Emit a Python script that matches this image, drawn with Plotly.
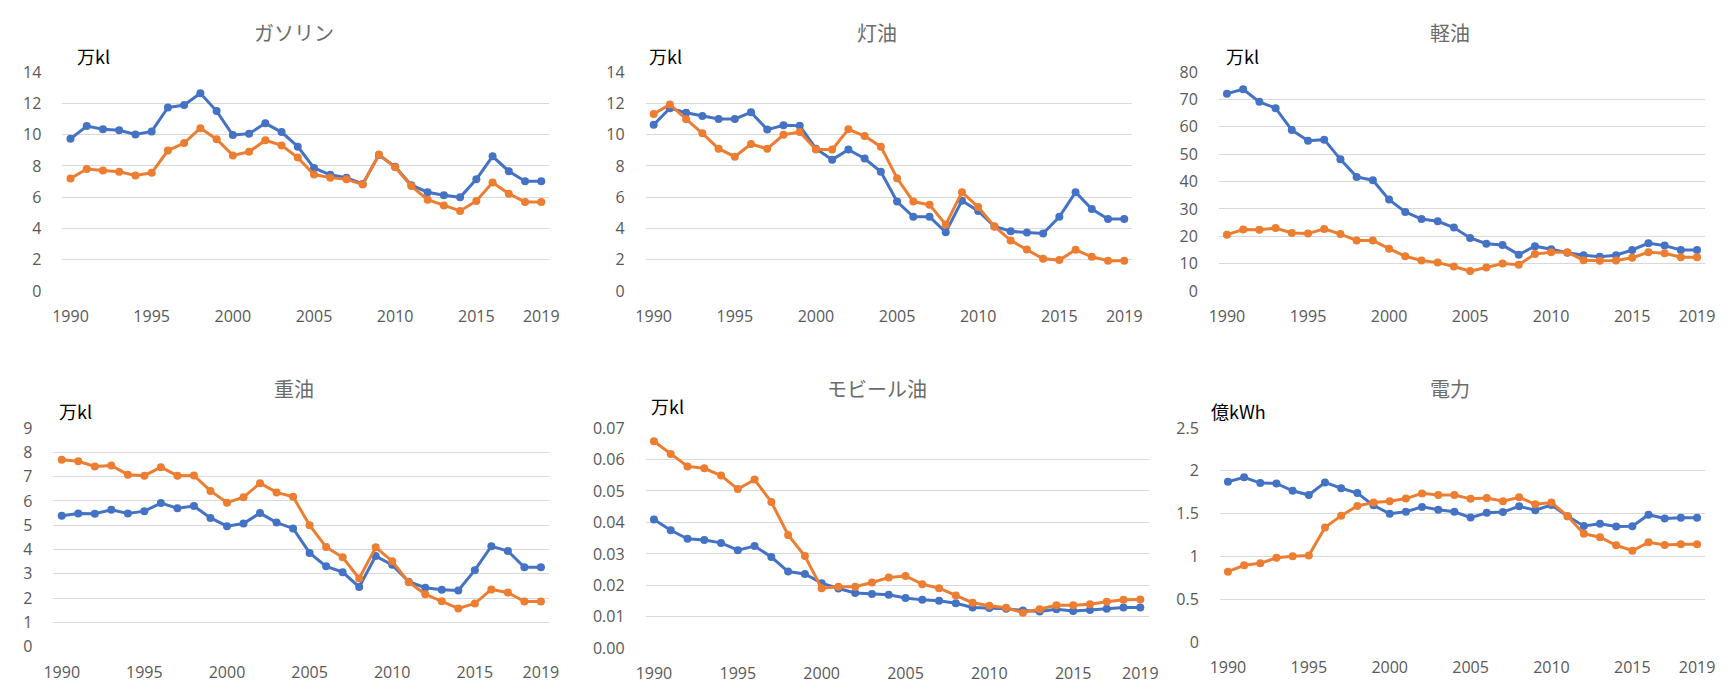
import plotly.graph_objects as go

years = [str(y) for y in range(1990, 2020)]
tick_years = ["1990", "1995", "2000", "2005", "2010", "2015", "2019"]

titles = ["ガソリン", "灯油", "軽油", "重油", "モビール油", "電力"]
units = ["万kl", "万kl", "万kl", "万kl", "万kl", "億kWh"]

gasoline_blue = [9.73, 10.55, 10.34, 10.28, 10.01, 10.2, 11.73, 11.89, 12.64, 11.5,
                 9.97, 10.06, 10.72, 10.16, 9.23, 7.87, 7.43, 7.25, 6.85, 8.69,
                 7.95, 6.77, 6.32, 6.13, 5.99, 7.14, 8.61, 7.66, 7.02, 7.02]
gasoline_orange = [7.19, 7.8, 7.7, 7.62, 7.39, 7.56, 8.98, 9.46, 10.41, 9.7,
                   8.67, 8.9, 9.64, 9.31, 8.53, 7.45, 7.25, 7.14, 6.81, 8.73,
                   7.91, 6.71, 5.84, 5.47, 5.12, 5.76, 6.94, 6.22, 5.7, 5.7]

kerosene_blue = [10.63, 11.69, 11.4, 11.19, 11.0, 11.0, 11.42, 10.32, 10.59, 10.57,
                 9.1, 8.4, 9.04, 8.47, 7.62, 5.72, 4.75, 4.75, 3.76, 5.78,
                 5.12, 4.13, 3.82, 3.74, 3.68, 4.75, 6.32, 5.24, 4.6, 4.6]
kerosene_orange = [11.32, 11.93, 10.98, 10.08, 9.1, 8.59, 9.4, 9.09, 9.99, 10.16,
                   9.04, 9.04, 10.34, 9.91, 9.23, 7.21, 5.72, 5.51, 4.25, 6.32,
                   5.37, 4.13, 3.24, 2.66, 2.06, 1.98, 2.64, 2.19, 1.94, 1.94]

diesel_blue = [72.1, 73.7, 69.1, 66.8, 58.8, 54.9, 55.3, 48.1, 41.7, 40.5,
               33.4, 28.9, 26.3, 25.5, 23.2, 19.4, 17.3, 16.8, 13.3, 16.4,
               15.3, 14.0, 13.1, 12.5, 13.1, 15.0, 17.5, 16.6, 15.0, 15.0]
diesel_orange = [20.6, 22.5, 22.4, 23.0, 21.2, 21.0, 22.7, 20.8, 18.5, 18.5,
                 15.5, 12.7, 11.2, 10.4, 9.0, 7.3, 8.6, 10.1, 9.6, 13.5,
                 14.2, 14.2, 11.3, 11.1, 11.2, 12.2, 14.2, 13.8, 12.4, 12.4]

heavy_blue = [5.39, 5.48, 5.47, 5.64, 5.48, 5.58, 5.91, 5.7, 5.79, 5.3,
              4.96, 5.07, 5.5, 5.11, 4.87, 3.86, 3.31, 3.07, 2.46, 3.73,
              3.37, 2.68, 2.43, 2.35, 2.32, 3.15, 4.14, 3.94, 3.27, 3.27]
heavy_orange = [7.69, 7.63, 7.42, 7.46, 7.08, 7.04, 7.39, 7.04, 7.05, 6.41,
                5.93, 6.15, 6.73, 6.35, 6.17, 5.0, 4.1, 3.68, 2.81, 4.09,
                3.52, 2.66, 2.16, 1.87, 1.58, 1.78, 2.36, 2.23, 1.86, 1.86]

mobil_blue = [0.0409, 0.0375, 0.0348, 0.0344, 0.0335, 0.0312, 0.0325, 0.0290, 0.0244, 0.0236,
              0.0207, 0.0190, 0.0176, 0.0173, 0.0170, 0.0160, 0.0154, 0.0151, 0.0143, 0.0130,
              0.0128, 0.0126, 0.0120, 0.0117, 0.0124, 0.0119, 0.0122, 0.0126, 0.0130, 0.0130]
mobil_orange = [0.0658, 0.0617, 0.0578, 0.0572, 0.0549, 0.0506, 0.0536, 0.0465, 0.0360, 0.0293,
                0.0191, 0.0196, 0.0196, 0.0209, 0.0225, 0.0230, 0.0204, 0.0191, 0.0168, 0.0145,
                0.0135, 0.0129, 0.0113, 0.0124, 0.0137, 0.0137, 0.0140, 0.0148, 0.0154, 0.0155]

power_blue = [1.871, 1.924, 1.856, 1.852, 1.766, 1.717, 1.864, 1.796, 1.739, 1.596,
              1.498, 1.521, 1.578, 1.544, 1.521, 1.453, 1.510, 1.517, 1.585, 1.540,
              1.600, 1.468, 1.355, 1.382, 1.348, 1.352, 1.487, 1.442, 1.450, 1.450]
power_orange = [0.821, 0.896, 0.919, 0.983, 1.002, 1.009, 1.337, 1.476, 1.589, 1.630,
                1.645, 1.675, 1.736, 1.717, 1.717, 1.672, 1.683, 1.645, 1.691, 1.608,
                1.630, 1.468, 1.265, 1.224, 1.130, 1.066, 1.164, 1.134, 1.141, 1.141]

blue_series = [gasoline_blue, kerosene_blue, diesel_blue, heavy_blue, mobil_blue, power_blue]
orange_series = [gasoline_orange, kerosene_orange, diesel_orange, heavy_orange, mobil_orange, power_orange]
y_max = [14, 14, 80, 9, 0.07, 2.5]
y_step = [2, 2, 10, 1, 0.01, 0.5]
y_fmt = ["", "", "", "", ".2f", ""]

W, H = 1728, 691
# plot areas in pixels: (left, right, top, bottom)
boxes = [(53, 545.7, 63, 289.3), (643, 1135.5, 63, 289.3), (1223, 1715, 63, 289.3),
         (44, 545.5, 430.7, 656.7), (643, 1152, 430.7, 658.3), (1224, 1715, 430.7, 651.7)]
title_pos = [(287, 22), (877, 22), (1457, 22), (287, 390), (877, 390), (1457, 390)]
unit_pos = [(66, 46), (644, 46), (1228, 46), (48, 413), (646, 408), (1213, 413)]

BLUE = "#4472C4"
ORANGE = "#ED7D31"
GRID = "#D9D9D9"
TICK = "#595959"
NUMFONT = "Open Sans"
JPFONT = "Noto Sans CJK JP"

fig = go.Figure()
layout = dict(width=W, height=H, margin=dict(l=0, r=0, t=0, b=0),
              paper_bgcolor="white", plot_bgcolor="white", showlegend=False)
annotations = []
for i in range(6):
    n = "" if i == 0 else str(i + 1)
    xa, ya = "x" + n, "y" + n
    for data, col in ((blue_series[i], BLUE), (orange_series[i], ORANGE)):
        fig.add_trace(go.Scatter(x=years, y=data, xaxis=xa, yaxis=ya, mode="lines+markers",
                                 line=dict(color=col, width=3),
                                 marker=dict(color=col, size=8), hoverinfo="skip"))
    l, r, t, b = boxes[i]
    layout["xaxis" + n] = dict(domain=[l / W, r / W], anchor=ya, type="category",
                               categoryorder="array", categoryarray=years,
                               range=[-0.5, len(years) - 0.5],
                               tickmode="array", tickvals=tick_years, ticktext=tick_years,
                               showgrid=False, showline=False, zeroline=False, ticks="",
                               ticklabelstandoff=14,
                               tickfont=dict(family=NUMFONT, size=16, color=TICK))
    layout["yaxis" + n] = dict(domain=[1 - b / H, 1 - t / H], anchor=xa,
                               range=[0, y_max[i]], dtick=y_step[i], tick0=0,
                               tickformat=y_fmt[i], showgrid=True, gridcolor=GRID,
                               gridwidth=1.3, zeroline=False, showline=False, ticks="",
                               ticklabelstandoff=20,
                               tickfont=dict(family=NUMFONT, size=16, color=TICK))
    tx, ty = title_pos[i]
    annotations.append(dict(text=titles[i], x=tx / W, y=1 - ty / H, xref="paper", yref="paper",
                            xanchor="center", yanchor="middle", showarrow=False,
                            font=dict(family=JPFONT, size=20, color="#6b6b6b")))
    ux, uy = unit_pos[i]
    annotations.append(dict(text=units[i], x=ux / W, y=1 - uy / H, xref="paper", yref="paper",
                            xanchor="left", yanchor="middle", showarrow=False,
                            font=dict(family=JPFONT, size=18, color="black")))
layout["annotations"] = annotations
fig.update_layout(**layout)
fig.write_html("out.html", config={"displayModeBar": False},
               post_script="document.body.style.margin='0';document.body.style.overflow='hidden';")
